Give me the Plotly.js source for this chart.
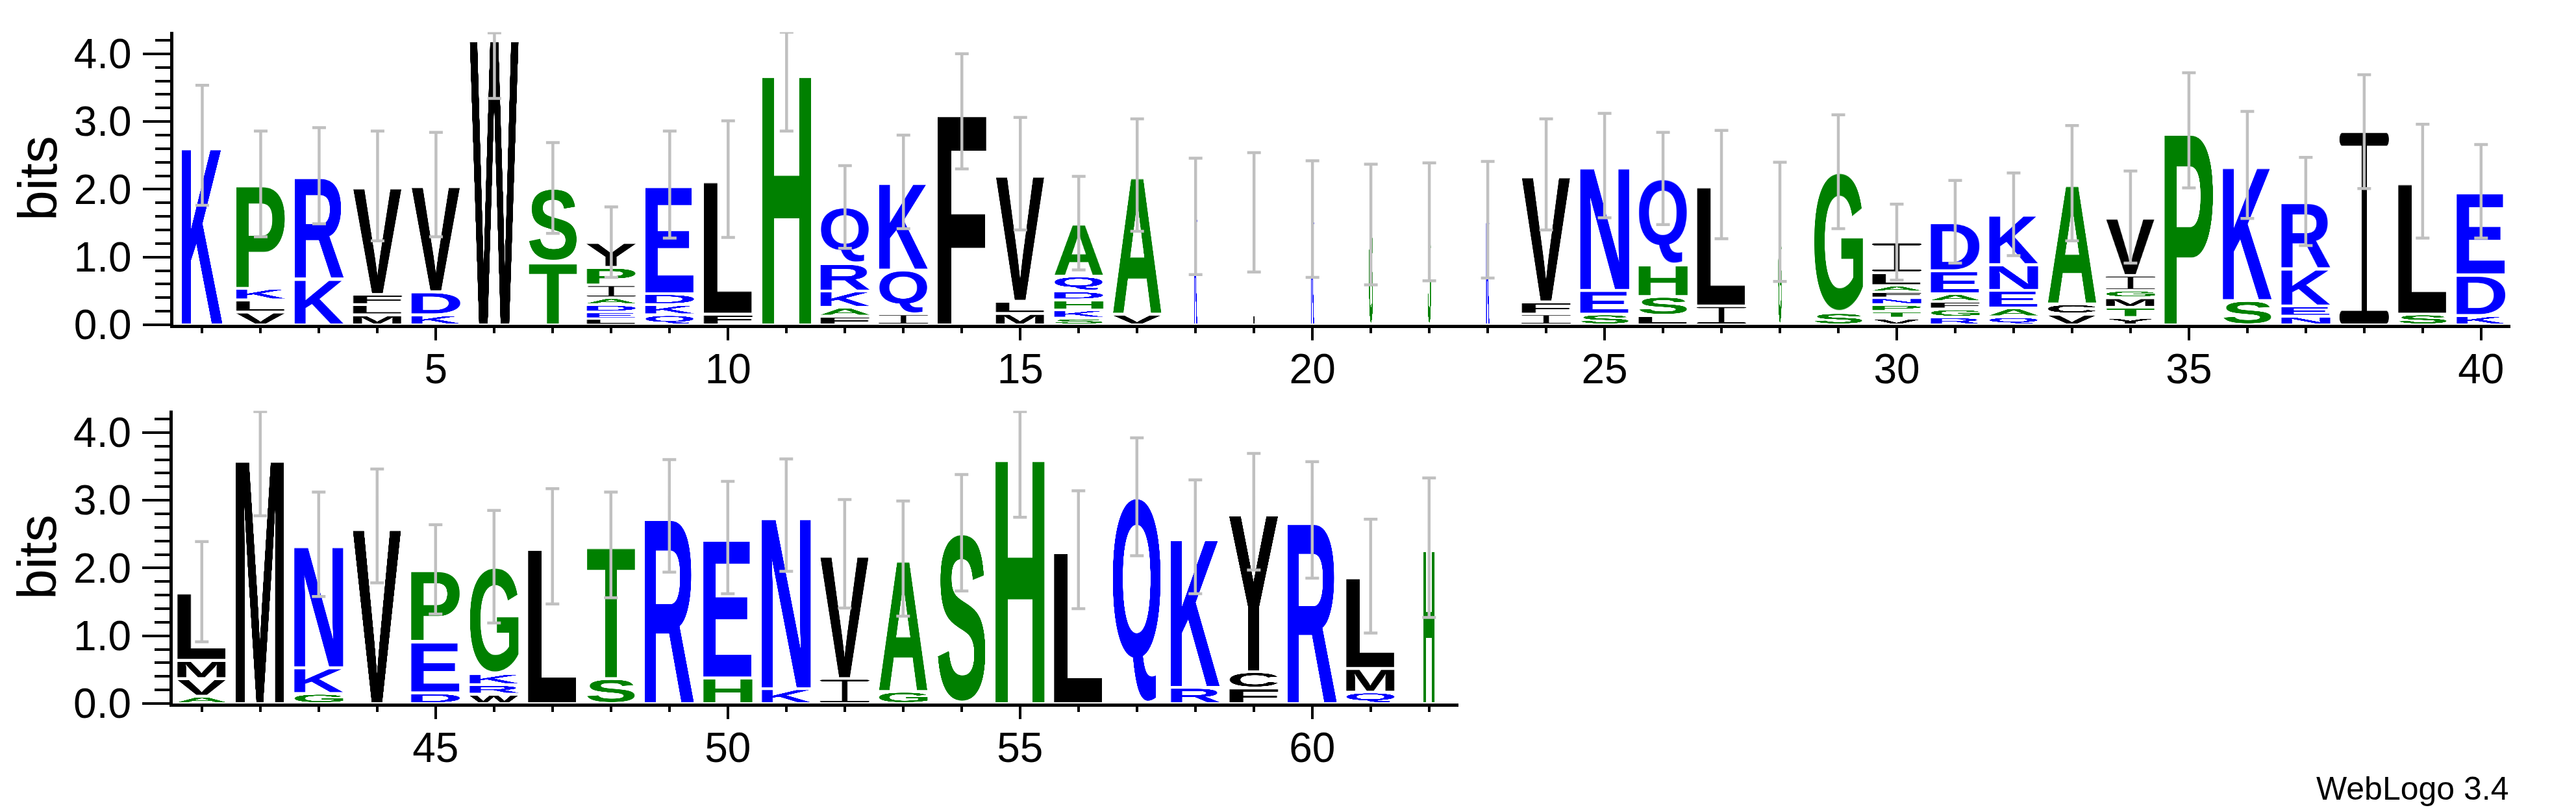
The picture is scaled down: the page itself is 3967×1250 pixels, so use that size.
<!DOCTYPE html>
<html>
<head>
<meta charset="utf-8">
<script src="https://cdn.plot.ly/plotly-3.0.1.min.js"></script>
<style>html,body{margin:0;padding:0;background:#fff;}</style>
</head>
<body>
<div id="chart" style="width:3967px;height:1250px;"></div>
<script>
// ---------------- DATA ----------------
const positions = [1,2,3,4,5,6,7,8,9,10,11,12,13,14,15,16,17,18,19,20,21,22,23,24,25,26,27,28,29,30,31,32,33,34,35,36,37,38,39,40,
  41,42,43,44,45,46,47,48,49,50,51,52,53,54,55,56,57,58,59,60,61,62];

// letters of each stack, bottom to top
const stackLetters = ["K","VLKP","KR","MLFV","KDV","W","TS","LEDAIPY","QKDE","FL",
  "H","FAKRQ","IQK","F","MLV","SKHDQA","VA","K","I","K",
  "G","S","K","IFV","SEN","LSHQ","IL","G","SG","VTPNFALI",
  "RGFAED","QAENK","VCA","YTMGIV","P","SK","NEKR","I","SL","KDE",
  "AVML","M","GKN","V","DEP","WRKG","L","ST","R","HE",
  "KN","IV","GA","S","H","L","Q","RK","FCY","R","QML","H"];

// bits of each letter, same order as stackLetters
const stackHeights = [
  [2.65],[0.19,0.18,0.17,1.54],[0.68,1.52],[0.15,0.15,0.15,1.60],[0.15,0.34,1.58],[4.28],[0.93,1.09],
  [0.09,0.10,0.11,0.10,0.19,0.26,0.37],[0.15,0.15,0.16,1.61],[0.16,1.99],
  [3.74],[0.13,0.13,0.24,0.41,0.83],[0.16,0.65,1.30],[3.15],[0.17,0.18,1.88],
  [0.10,0.12,0.15,0.13,0.22,0.78],[0.16,2.05],[1.60],[1.66],[1.56],
  [1.48],[1.52],[1.55],[0.16,0.18,1.88],[0.16,0.35,1.84],[0.14,0.28,0.47,1.27],[0.28,1.79],[1.52],[0.18,2.08],
  [0.10,0.10,0.10,0.10,0.09,0.09,0.19,0.45],
  [0.115,0.12,0.11,0.115,0.34,0.72],[0.12,0.13,0.26,0.38,0.74],[0.16,0.15,1.78],[0.11,0.15,0.14,0.11,0.22,0.86],
  [2.87],[0.36,2.00],[0.13,0.15,0.55,0.99],[2.85],[0.16,1.96],[0.14,0.60,1.23],
  [0.11,0.26,0.27,1.01],[3.65],[0.15,0.38,1.82],[2.62],[0.16,0.76,1.06],[0.14,0.14,0.16,1.58],[2.32],[0.37,1.97],[2.77],[0.38,2.07],
  [0.22,2.56],[0.37,1.84],[0.18,1.96],[2.52],[3.66],[2.27],[3.05],[0.24,2.22],[0.23,0.24,2.36],[2.71],[0.17,0.35,1.36],[2.30]
];

// fraction of the normal letter width used by each column (gappy columns are narrow)
const widthScale = [0.83,1,1,1,1,1,1,1,1,1, 1,1,1,1,1,1,1,0.07,0.025,0.07, 0.08,0.07,0.07,1,1,1,1,0.07,1,1,
  1,1,1,1,1,1,1,1,1,1, 1,1,1,1,1,1,1,1,1,1, 1,1,1,1,1,1,1,1,1,1, 1,0.23];

// error bars (bits below / above the top of each stack)
const errMinus = [0.885,0.78,0.71,0.81,0.77,0.94,0.67,0.52,0.79,0.86,
  0.88,0.61,0.69,0.85,0.83,0.69,0.83,0.86,0.88,0.86,
  0.89,0.87,0.86,0.82,0.77,0.68,0.80,0.88,0.84,0.56,
  0.61,0.61,0.85,0.68,0.85,0.79,0.65,0.84,0.84,0.69,
  0.74,0.88,0.77,0.84,0.66,0.83,0.85,0.78,0.83,0.83,
  0.83,0.80,0.85,0.86,0.91,0.87,0.87,0.84,0.86,0.86,0.84,1.03];
const errPlus = [0.885,0.78,0.71,0.81,0.77,0.03,0.67,0.52,0.79,0.86,
  0.58,0.61,0.69,0.85,0.83,0.69,0.83,0.86,0.88,0.86,
  0.89,0.87,0.86,0.82,0.77,0.68,0.80,0.88,0.84,0.56,
  0.61,0.61,0.85,0.68,0.85,0.79,0.65,0.84,0.84,0.69,
  0.74,0.66,0.77,0.84,0.66,0.83,0.85,0.78,0.83,0.83,
  0.83,0.80,0.85,0.86,0.65,0.87,0.87,0.84,0.86,0.86,0.84,1.03];

const firstRowLast = 40;
const yTickVals = [0,1,2,3,4];
const yMax = 4.32;

// ---------------- STYLE ----------------
const BLUE = '#0000ff', GREEN = '#008000', BLACK = '#000000';
const letterColor = {K:BLUE,R:BLUE,D:BLUE,E:BLUE,N:BLUE,Q:BLUE,
  H:GREEN,P:GREEN,A:GREEN,G:GREEN,S:GREEN,T:GREEN,
  C:BLACK,V:BLACK,L:BLACK,I:BLACK,M:BLACK,F:BLACK,W:BLACK,Y:BLACK};
const LETTER_W = 0.845;   // letter width in column units
const GAP = 0.038;        // visual gap between stacked letters (bits)
const FONT = '"Liberation Sans", Arial, Helvetica, sans-serif';

const glyphCache = {};
function glyph(ch) {
  if (glyphCache[ch]) return glyphCache[ch];
  const color = letterColor[ch] || BLACK;
  const c = document.createElement('canvas');
  const ctx = c.getContext('2d');
  if (ch === 'I') {
    const W = 400, H = 600, bar = 40, stem = 44;
    c.width = W; c.height = H;
    ctx.fillStyle = color;
    ctx.beginPath();
    if (ctx.roundRect) {
      ctx.roundRect(0, 0, W, bar, bar/2);
      ctx.roundRect(0, H - bar, W, bar, bar/2);
    } else {
      ctx.rect(0, 0, W, bar); ctx.rect(0, H - bar, W, bar);
    }
    ctx.fill();
    ctx.fillRect((W - stem)/2, 0, stem, H);
  } else {
    const fs = 600;
    const font = 'bold ' + fs + 'px ' + FONT;
    ctx.font = font;
    const m = ctx.measureText(ch);
    const l = m.actualBoundingBoxLeft, r = m.actualBoundingBoxRight;
    const a = m.actualBoundingBoxAscent, d = m.actualBoundingBoxDescent;
    c.width = Math.max(1, Math.ceil(l + r));
    c.height = Math.max(1, Math.ceil(a + d));
    ctx.font = font;
    ctx.fillStyle = color;
    ctx.textBaseline = 'alphabetic';
    ctx.textAlign = 'left';
    ctx.fillText(ch, l, a);
  }
  glyphCache[ch] = c.toDataURL('image/png');
  return glyphCache[ch];
}

// ---------------- BUILD ----------------
const images = [];
const totals = stackHeights.map(a => a.reduce((s, v) => s + v, 0));
positions.forEach((pos, i) => {
  const top = pos <= firstRowLast;
  const xr = top ? 'x' : 'x2', yr = top ? 'y' : 'y2';
  const w = LETTER_W * widthScale[i];
  let base = 0;
  stackLetters[i].split('').forEach((ch, j) => {
    const h = stackHeights[i][j];
    const g = h > 2.5 * GAP ? GAP : h * 0.35;
    images.push({
      source: glyph(ch), xref: xr, yref: yr,
      x: pos - w / 2, y: base + g / 2, sizex: w, sizey: h - g,
      xanchor: 'left', yanchor: 'bottom', sizing: 'stretch', layer: 'below'
    });
    base += h;
  });
});

function errTrace(sel, xa, ya) {
  const idx = positions.map((p, i) => i).filter(sel);
  return {
    type: 'scatter', mode: 'markers', xaxis: xa, yaxis: ya,
    x: idx.map(i => positions[i]), y: idx.map(i => totals[i]),
    marker: {size: 2, opacity: 0},
    error_y: {type: 'data', symmetric: false,
      array: idx.map(i => errPlus[i]), arrayminus: idx.map(i => errMinus[i]),
      color: '#c0c0c0', thickness: 4.5, width: 10.5},
    hoverinfo: 'skip', showlegend: false, cliponaxis: false
  };
}
const traces = [
  errTrace(i => positions[i] <= firstRowLast, 'x', 'y'),
  errTrace(i => positions[i] > firstRowLast, 'x2', 'y2')
];

const xAxisBase = {
  showline: true, linecolor: '#000', linewidth: 5, mirror: false,
  showgrid: false, zeroline: false, fixedrange: true,
  ticks: 'outside', tickmode: 'linear', tick0: 5, dtick: 5,
  ticklen: 19, tickwidth: 4, tickcolor: '#000',
  minor: {ticks: 'outside', dtick: 1, tick0: 0, ticklen: 8, tickwidth: 4, tickcolor: '#000', showgrid: false},
  tickfont: {family: FONT, size: 64, color: '#000'}, ticklabelstandoff: -11
};
const yAxisBase = {
  range: [0, yMax], showline: true, linecolor: '#000', linewidth: 5,
  showgrid: false, zeroline: false, fixedrange: true,
  ticks: 'outside', tickmode: 'array', tickvals: yTickVals, tickformat: '.1f',
  ticklen: 42, tickwidth: 4, tickcolor: '#000',
  minor: {ticks: 'outside', dtick: 0.2, tick0: 0, ticklen: 23, tickwidth: 4, tickcolor: '#000', showgrid: false},
  tickfont: {family: FONT, size: 64, color: '#000'}, ticklabelstandoff: 4,
  title: {text: 'bits', font: {family: FONT, size: 84, color: '#000'}, standoff: 0}
};

const layout = {
  width: 3967, height: 1250, autosize: false,
  margin: {l: 0, r: 0, t: 0, b: 0, pad: 0},
  paper_bgcolor: '#ffffff', plot_bgcolor: 'rgba(0,0,0,0)',
  showlegend: false,
  font: {family: FONT, color: '#000'},
  xaxis: Object.assign({}, xAxisBase, {domain: [266.5/3967, 3865.8/3967], range: [0.5, 40.5], anchor: 'y'}),
  yaxis: Object.assign({}, yAxisBase, {domain: [0.6, 0.96048], anchor: 'x'}),
  xaxis2: Object.assign({}, xAxisBase, {domain: [265.8/3967, 2245.8/3967], range: [40.5, 62.5], anchor: 'y2'}),
  yaxis2: Object.assign({}, yAxisBase, {domain: [0.1336, 0.49408], anchor: 'x2'}),
  images: images,
  annotations: [{
    text: 'WebLogo 3.4', xref: 'paper', yref: 'paper', x: 3866/3967, y: 1 - 1214/1250,
    xanchor: 'right', yanchor: 'middle', showarrow: false,
    font: {family: FONT, size: 50, color: '#000'}
  }]
};

Plotly.newPlot('chart', traces, layout, {staticPlot: true, displayModeBar: false});
</script>
</body>
</html>
